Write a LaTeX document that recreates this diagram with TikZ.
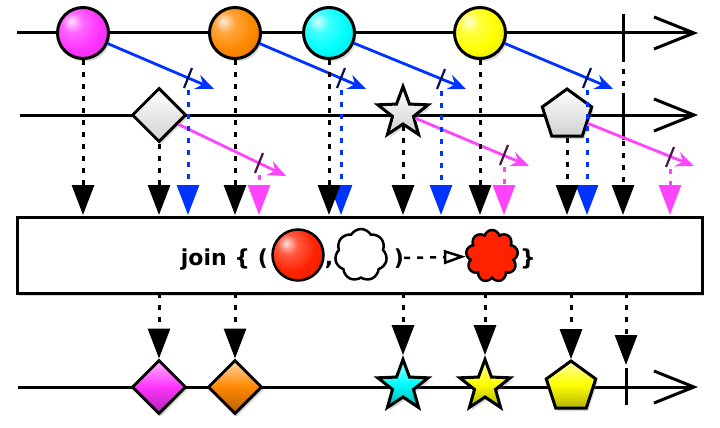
\documentclass[tikz,border=0pt]{standalone}
\usepackage{fontspec}
\newfontfamily\labelfont{DejaVu Sans}
\usetikzlibrary{arrows.meta,shapes.geometric,shapes.symbols,shadows,calc}

\definecolor{mmagenta}{HTML}{FF33FF}
\definecolor{morange}{HTML}{FF8800}
\definecolor{mcyan}{HTML}{00FFFF}
\definecolor{myellow}{HTML}{FFFF00}
\definecolor{mred}{HTML}{FF2200}
\definecolor{winblue}{HTML}{0033FF}
\definecolor{winpink}{HTML}{FF44FF}

\makeatletter
\pgfdeclareradialshading[tikz@ball]{glossy}{\pgfpoint{-12bp}{12bp}}{%
  color(0bp)=(tikz@ball!15!white); color(10bp)=(tikz@ball!75!white);
  color(24bp)=(tikz@ball); color(42bp)=(tikz@ball!85!black);
  color(62bp)=(tikz@ball!60!black)}
\makeatother

\tikzstyle{timeline}=[line width=3pt,-{Straight Barb[length=40pt,width=32pt,line width=3pt]}]
\tikzstyle{endbar}=[line width=3pt]
\tikzstyle{item}=[draw,line width=3pt,inner sep=0pt,drop shadow={opacity=.3,shadow xshift=2pt,shadow yshift=-3pt}]
\tikzstyle{marble}=[item,circle,minimum size=51pt]
\tikzstyle{gem}=[item,diamond,minimum size=54pt]
\tikzstyle{starb}=[item,star,star points=5,star point ratio=2.4,minimum size=53pt]
\tikzstyle{penta}=[item,regular polygon,regular polygon sides=5,minimum size=52pt]
\tikzstyle{blank}=[top color=white,bottom color=black!18]
\tikzstyle{emit}=[line width=3pt,dash pattern=on 5pt off 7pt,-{Triangle[length=30pt,width=22pt]}]
\tikzstyle{window}=[line width=2.8pt,-{Stealth[length=18pt,width=15pt,inset=6pt]}]
\tikzstyle{cut}=[line width=2.2pt]
\tikzstyle{word}=[inner sep=0pt,font=\labelfont\bfseries\fontsize{22}{26}\selectfont]
\tikzset{tint/.style={top color=#1!35!white,bottom color=#1!70!black,middle color=#1},
	gloss/.style={ball color=#1,shading=glossy}}

\begin{document}
\begin{tikzpicture}[x=1pt,y=-1pt]
	\useasboundingbox (0,0) rectangle (720,428);
	% source lines
	\draw[timeline] (17,33) -- (698,33);
	\draw[timeline] (20,115) -- (698,115);
	\draw[endbar] (623,14) -- (623,57);
	\draw[endbar] (623,95) -- (623,140);
	\coordinate (e1) at (623,57);
	\node[marble,gloss=mmagenta] (a1) at (83,33) {};
	\node[marble,gloss=morange]  (a2) at (235,33) {};
	\node[marble,gloss=mcyan]    (a3) at (329,33) {};
	\node[marble,gloss=myellow]  (a4) at (480,33) {};
	\node[gem,blank]   (b1) at (159,115) {};
	\node[starb,blank] (b2) at (403,113) {};
	\node[penta,blank] (b3) at (567,115) {};
	% tips above the operator box
	\foreach \n/\x in {1/83,2/159,3/235,4/329,5/403,6/480,7/567,8/623}
		\coordinate (t\n) at (\x,215);
	\foreach \n/\x in {1/188,2/341,3/441,4/587}
		\coordinate (u\n) at (\x,215);
	\foreach \n/\x in {1/259,2/504,3/670}
		\coordinate (v\n) at (\x,215);
	% duration windows
	\coordinate (w1) at (214,89);  \coordinate (k1) at (188,78);
	\coordinate (w2) at (366,89);  \coordinate (k2) at (341,78);
	\coordinate (w3) at (466,89);  \coordinate (k3) at (441,79);
	\coordinate (w4) at (613,89);  \coordinate (k4) at (587,78);
	\coordinate (p1) at (286,176); \coordinate (q1) at (259,163);
	\coordinate (p2) at (529,166); \coordinate (q2) at (504,155);
	\coordinate (p3) at (694,166); \coordinate (q3) at (670,157);
	\draw[window,winblue] (a1) -- (w1);
	\draw[window,winblue] (a2) -- (w2);
	\draw[window,winblue] (a3) -- (w3);
	\draw[window,winblue] (a4) -- (w4);
	\draw[window,winpink] (b1) -- (p1);
	\draw[window,winpink] (b2) -- (p2);
	\draw[window,winpink] (b3) -- (p3);
	\foreach \k in {k1,k2,k3,k4}
		\draw[cut,black!65!winblue] ($(\k)+(-4,10)$) -- ($(\k)+(4,-10)$);
	\foreach \k in {q1,q2,q3}
		\draw[cut,black!70!winpink] ($(\k)+(-4,10)$) -- ($(\k)+(4,-10)$);
	\foreach \k/\u in {k1/u1,k2/u2,k3/u3,k4/u4}
		\draw[emit,winblue,shorten <=12pt] (\k) -- (\u);
	\foreach \k/\v in {q1/v1,q2/v2,q3/v3}
		\draw[emit,winpink,shorten <=12pt] (\k) -- (\v);
	\draw[emit] (a1) -- (t1);
	\draw[emit] (b1) -- (t2);
	\draw[emit] (a2) -- (t3);
	\draw[emit] (a3) -- (t4);
	\draw[emit] (b2) -- (t5);
	\draw[emit] (a4) -- (t6);
	\draw[emit] (b3) -- (t7);
	\draw[emit] (e1) -- (t8);
	% operator box
	\node[draw,line width=3pt,fill=white,minimum width=685pt,minimum height=76pt,inner sep=0pt,
		drop shadow={opacity=.3,shadow xshift=2pt,shadow yshift=-3pt}] (join) at (359.5,255) {};
	\node[word,anchor=base east] (jtxt) at (268,265) {join \{ (};
	\node[circle,draw,line width=2.5pt,minimum size=51pt,inner sep=0pt,gloss=mred] (rb) at (298,255) {};
	\node[word,anchor=base] (comma) at (329,265) {,};
	\node[cloud,cloud puffs=7,cloud puff arc=120,draw,line width=2.5pt,fill=white,minimum width=52pt,minimum height=52pt,inner sep=0pt] (wc) at (361,255) {};
	\node[word,anchor=base] (rp) at (399,265) {)};
	\node[cloud,cloud puffs=9,draw,line width=2.5pt,fill=mred,minimum width=52pt,minimum height=52pt,inner sep=0pt] (rc) at (492,256) {};
	\node[word,anchor=base] (rcb) at (528,265) {\}};
	\draw[line width=2.5pt,dash pattern=on 6pt off 7pt,-{Triangle[open,length=22pt,width=14pt,line width=2.5pt]}] (rp) -- (rc);
	% result line
	\draw[timeline] (18,387) -- (698,387);
	\draw[endbar] (626,368) -- (626,405);
	\coordinate (e3) at (626,365);
	\node[gem,tint=mmagenta] (r1) at (159,387) {};
	\node[gem,tint=morange]  (r2) at (235,387) {};
	\node[starb,tint=mcyan]  (r3) at (403,386) {};
	\node[starb,tint=myellow] (r4) at (485,386) {};
	\node[penta,tint=myellow] (r5) at (571,387) {};
	\foreach \n/\x in {1/159,2/235,3/403,4/485,5/571,6/626}
		\coordinate (s\n) at (\x,293);
	\draw[emit] (s1) -- (r1);
	\draw[emit] (s2) -- (r2);
	\draw[emit] (s3) -- (r3);
	\draw[emit] (s4) -- (r4);
	\draw[emit] (s5) -- (r5);
	\draw[emit] (s6) -- (e3);
\end{tikzpicture}
\end{document}
